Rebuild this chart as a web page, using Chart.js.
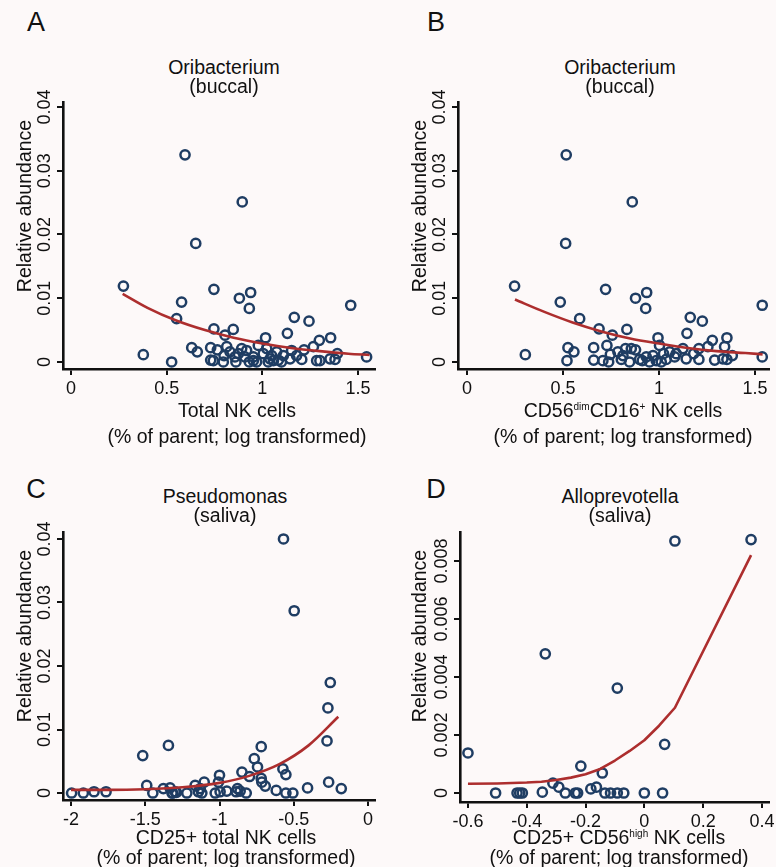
<!DOCTYPE html>
<html>
<head>
<meta charset="utf-8">
<script src="https://cdn.jsdelivr.net/npm/chart.js@4.4.1/dist/chart.umd.min.js"></script>
<style>
  html, body { margin:0; padding:0; background:#fdf9f9; overflow:hidden; }
  body { width:776px; height:867px; position:relative; font-family:"Liberation Sans", Arial, Helvetica, sans-serif; color:#111; }
  canvas { position:absolute; }
  .t { position:absolute; white-space:nowrap; transform:translate(-50%,-50%); line-height:1; font-size:19.5px; }
  .lt { font-size:27px; }
  .yt { transform:translate(-50%,-50%) rotate(-90deg); }
  .sup { font-size:10px; position:relative; top:-7px; }
</style>
</head>
<body>
<canvas id="cA"></canvas>
<canvas id="cB"></canvas>
<canvas id="cC"></canvas>
<canvas id="cD"></canvas>

<div class="t lt" style="left:36px;top:22px">A</div>
<div class="t lt" style="left:436px;top:22px">B</div>
<div class="t lt" style="left:36px;top:489px">C</div>
<div class="t lt" style="left:436px;top:489px">D</div>

<div class="t" style="left:224px;top:68px">Oribacterium</div>
<div class="t" style="left:224px;top:87px">(buccal)</div>
<div class="t" style="left:620px;top:68px">Oribacterium</div>
<div class="t" style="left:620px;top:87px">(buccal)</div>
<div class="t" style="left:225px;top:497px">Pseudomonas</div>
<div class="t" style="left:225px;top:516px">(saliva)</div>
<div class="t" style="left:620px;top:497px">Alloprevotella</div>
<div class="t" style="left:620px;top:516px">(saliva)</div>

<div class="t yt" style="left:25px;top:206px">Relative abundance</div>
<div class="t yt" style="left:420px;top:206px">Relative abundance</div>
<div class="t yt" style="left:25px;top:636px">Relative abundance</div>
<div class="t yt" style="left:420px;top:636px">Relative abundance</div>

<div class="t" style="left:237px;top:411px">Total NK cells</div>
<div class="t" style="left:237px;top:437px">(% of parent; log transformed)</div>
<div class="t" style="left:623px;top:411px">CD56<span class="sup">dim</span>CD16<span class="sup">+</span> NK cells</div>
<div class="t" style="left:623px;top:437px">(% of parent; log transformed)</div>
<div class="t" style="left:226px;top:838px">CD25+ total NK cells</div>
<div class="t" style="left:226px;top:858px">(% of parent; log transformed)</div>
<div class="t" style="left:619px;top:838px">CD25+ CD56<span class="sup">high</span> NK cells</div>
<div class="t" style="left:619px;top:858px">(% of parent; log transformed)</div>

<script>
// ---------------- DATA ----------------
// Panel A: Oribacterium (buccal) vs Total NK cells
const aX = [0.274,0.378,0.526,0.552,0.578,0.596,0.631,0.660,0.652,0.730,0.744,0.730,0.747,0.747,0.765,0.796,0.805,0.814,0.831,0.800,0.848,0.862,0.857,0.880,0.895,0.892,0.918,0.909,0.932,0.939,0.932,0.953,0.970,0.979,1.005,1.017,1.023,1.031,1.040,1.049,1.075,1.084,1.110,1.131,1.145,1.153,1.167,1.179,1.206,1.218,1.244,1.267,1.284,1.298,1.301,1.357,1.354,1.380,1.392,1.462,1.545,0.875,0.953,1.058,1.100];
const aY = [0.0119,0.00115,0.0000,0.0068,0.0094,0.0325,0.00225,0.0016,0.0186,0.0003,0.0002,0.00225,0.0114,0.0052,0.0019,0.0000,0.0042,0.0024,0.0016,0.0010,0.0051,0.0000,0.0008,0.0100,0.0251,0.0021,0.0018,0.0008,0.0000,0.0109,0.0084,0.0002,0.0000,0.0026,0.0013,0.0038,0.0021,0.0000,0.0005,0.0010,0.0016,0.0003,0.0010,0.0045,0.0005,0.0018,0.0070,0.0010,0.0004,0.0019,0.0064,0.0024,0.0002,0.0034,0.0002,0.0038,0.0005,0.0004,0.0013,0.0089,0.0008,0.0013,0.0008,0.0002,0.0000];
const aFitX = [0.27,0.4,0.55,0.7,0.85,1.0,1.15,1.3,1.45,1.56];
const aFitY = [0.0107,0.0085,0.0065,0.0050,0.0038,0.0029,0.0022,0.0017,0.0013,0.0011];

// Panel B: Oribacterium (buccal) vs CD56dim CD16+ NK cells
const bX = [0.248,0.304,0.486,0.517,0.514,0.526,0.521,0.557,0.587,0.660,0.660,0.688,0.708,0.722,0.729,0.738,0.747,0.757,0.786,0.804,0.8125,0.826,0.833,0.847,0.861,0.856,0.878,0.878,0.899,0.913,0.931,0.936,0.934,0.951,0.969,0.986,0.995,1.003,1.012,1.024,1.038,1.056,1.082,1.090,1.125,1.146,1.142,1.163,1.181,1.208,1.208,1.226,1.255,1.278,1.290,1.342,1.354,1.354,1.333,1.382,1.538,1.538];
const bY = [0.0119,0.00115,0.0094,0.0325,0.0186,0.00225,0.0002,0.0016,0.0068,0.00225,0.0003,0.0052,0.0002,0.0114,0.0026,0.0000,0.0012,0.0042,0.0016,0.0004,0.0010,0.0021,0.0051,0.0000,0.0251,0.0021,0.0100,0.0019,0.0004,0.0002,0.0084,0.0109,0.0008,0.0000,0.0010,0.0002,0.0038,0.0026,0.0000,0.0013,0.0004,0.0016,0.0008,0.0013,0.0021,0.0045,0.0005,0.0070,0.0013,0.0004,0.0021,0.0064,0.0024,0.0034,0.0003,0.0024,0.0038,0.0004,0.0005,0.0010,0.0089,0.0008];
const bFitX = [0.25,0.4,0.55,0.7,0.85,1.0,1.15,1.3,1.45,1.54];
const bFitY = [0.0098,0.0079,0.0062,0.0048,0.0037,0.0029,0.0022,0.0017,0.0014,0.0012];

// Panel C: Pseudomonas (saliva) vs CD25+ total NK cells
const cX = [-1.996,-1.917,-1.845,-1.764,-1.517,-1.490,-1.449,-1.378,-1.344,-1.333,-1.315,-1.299,-1.220,-1.164,-1.142,-1.119,-1.103,-1.130,-1.029,-1.007,-1.000,-0.996,-0.951,-0.888,-0.879,-0.861,-0.849,-0.820,-0.798,-0.766,-0.744,-0.719,-0.719,-0.715,-0.692,-0.618,-0.573,-0.553,-0.569,-0.553,-0.506,-0.497,-0.407,-0.276,-0.270,-0.265,-0.254,-0.180,-1.320,-1.290];
const cY = [0,0,0.0002,0.0002,0.0059,0.0012,0,0.0007,0.0075,0.0008,0,0.0002,0,0.0012,0.0002,0,0.0017,0.0007,0,0.0017,0.0028,0.0002,0.0003,0.0002,0.0007,0.0003,0.0033,0,0.0026,0.0054,0.0041,0.0073,0.0023,0.0017,0.0011,0.0004,0.0038,0.0029,0.0400,0,0,0.0287,0.0008,0.0082,0.0134,0.0017,0.0174,0.0007,0,0.0001];
const cFitX = [-2,-1.75,-1.5,-1.25,-1.0,-0.8,-0.6,-0.4,-0.2];
const cFitY = [0.0005,0.0005,0.0006,0.0009,0.0016,0.0027,0.0045,0.0075,0.0120];

// Panel D: Alloprevotella (saliva) vs CD25+ CD56high NK cells
const dX = [-0.600,-0.506,-0.433,-0.424,-0.415,-0.347,-0.337,-0.311,-0.291,-0.269,-0.235,-0.227,-0.216,-0.182,-0.163,-0.143,-0.134,-0.115,-0.092,-0.092,-0.070,0.000,0.062,0.069,0.104,0.363];
const dY = [0.00138,0,0,0,0,0.00003,0.0048,0.00034,0.0002,0,0,0,0.00093,0.00014,0.0002,0.00069,0,0,0,0.00362,0,0,0,0.00168,0.00869,0.00874];
const dFitX = [-0.6,-0.5,-0.4,-0.35,-0.3,-0.25,-0.2,-0.15,-0.1,-0.05,0,0.05,0.104,0.363];
const dFitY = [0.00032,0.00033,0.00036,0.00039,0.00045,0.00053,0.00065,0.00083,0.00112,0.00145,0.00182,0.00232,0.00294,0.0082];

// Tick values and labels
const abXTicks = [0,0.5,1,1.5];
const abXLabels = ['0','0.5','1','1.5'];
const acYTicks = [0,0.01,0.02,0.03,0.04];
const acYLabels = ['0','0.01','0.02','0.03','0.04'];
const cXTicks = [-2,-1.5,-1,-0.5,0];
const cXLabels = ['-2','-1.5','-1','-0.5','0'];
const dXTicks = [-0.6,-0.4,-0.2,0,0.2,0.4];
const dXLabels = ['-0.6','-0.4','-0.2','0','0.2','0.4'];
const dYTicks = [0,0.002,0.004,0.006,0.008];
const dYLabels = ['0','0.002','0.004','0.006','0.008'];

// ---------------- DRAWING ----------------
const FAMILY = '"Liberation Sans", Arial, Helvetica, sans-serif';
const TICKSIZE = 18;
const TL = 6;
const MARK = '#1f3d63';
const FIT = '#ad2e2e';
const AXIS = '#111111';

function widest(labels) {
  const c = document.createElement('canvas').getContext('2d');
  c.font = 'normal ' + TICKSIZE + 'px ' + FAMILY;
  return Math.max(...labels.map(l => c.measureText(l).width));
}
function pts(xs, ys) { return xs.map((x, i) => ({x: x, y: ys[i]})); }

function panel(id, p) {
  const cv = document.getElementById(id);
  cv.width = p.cw; cv.height = p.ch;
  cv.style.left = p.cl + 'px'; cv.style.top = p.ct + 'px';
  cv.style.width = p.cw + 'px'; cv.style.height = p.ch + 'px';
  const yAxisW = p.L - p.cl;
  const xAxisH = p.ct + p.ch - p.B;
  const yPad = (p.L - TL) - p.yLabC - widest(p.yLabels) / 2;
  const lineDs = { type: 'line', data: pts(p.fx, p.fy), borderColor: FIT, borderWidth: 2.6,
          pointRadius: 0, fill: false, order: 0, clip: false, borderJoinStyle: 'round' };
  if (p.smooth) { lineDs.cubicInterpolationMode = 'monotone'; } else { lineDs.tension = 0; }
  new Chart(cv, {
    type: 'scatter',
    data: {
      datasets: [
        lineDs,
        { data: pts(p.xs, p.ys), pointStyle: 'circle', pointRadius: 4.6, pointBorderWidth: 2.5,
          borderColor: MARK, backgroundColor: 'rgba(0,0,0,0)', pointHoverRadius: 4.6, order: 1, clip: false }
      ]
    },
    options: {
      responsive: false, animation: false, devicePixelRatio: 1,
      events: [],
      layout: { padding: { left: 0, top: p.T - p.ct, right: p.cl + p.cw - p.R, bottom: 0 } },
      plugins: { legend: { display: false }, tooltip: { enabled: false }, title: { display: false } },
      scales: {
        x: {
          type: 'linear', position: 'bottom', min: p.xmin, max: p.xmax,
          afterBuildTicks: s => { s.ticks = p.xTicks.map(v => ({value: v})); },
          afterFit: s => { s.height = xAxisH; s.paddingLeft = 0; s.paddingRight = 0; },
          ticks: { autoSkip: false, maxRotation: 0, minRotation: 0, padding: 3, color: AXIS,
                   font: { family: FAMILY, size: TICKSIZE },
                   callback: (v, i) => p.xLabels[i] },
          grid: { display: true, drawOnChartArea: false, drawTicks: true, tickLength: TL, color: AXIS, lineWidth: 2 },
          border: { display: true, color: AXIS, width: 2.6 }
        },
        y: {
          type: 'linear', position: 'left', min: p.ymin, max: p.ymax,
          afterBuildTicks: s => { s.ticks = p.yTicks.map(v => ({value: v})); },
          afterFit: s => { s.width = yAxisW; s.paddingTop = 0; s.paddingBottom = 0; },
          ticks: { autoSkip: false, minRotation: 90, maxRotation: 90, crossAlign: 'center', padding: yPad, color: AXIS,
                   font: { family: FAMILY, size: TICKSIZE },
                   callback: (v, i) => p.yLabels[i] },
          grid: { display: true, drawOnChartArea: false, drawTicks: true, tickLength: TL, color: AXIS, lineWidth: 2 },
          border: { display: true, color: AXIS, width: 2.6 }
        }
      }
    }
  });
}

panel('cA', { cl: 0, ct: 90, cw: 388, ch: 320, L: 63, R: 375, T: 102, B: 369, smooth: true,
  xmin: -0.0418, xmax: 1.5889, ymin: -0.0011, ymax: 0.04078, yLabC: 45.5,
  xs: aX, ys: aY, fx: aFitX, fy: aFitY, xTicks: abXTicks, xLabels: abXLabels, yTicks: acYTicks, yLabels: acYLabels });
panel('cB', { cl: 388, ct: 90, cw: 388, ch: 320, L: 458, R: 770, T: 102, B: 369, smooth: true,
  xmin: -0.0467, xmax: 1.5727, ymin: -0.0011, ymax: 0.04078, yLabC: 440,
  xs: bX, ys: bY, fx: bFitX, fy: bFitY, xTicks: abXTicks, xLabels: abXLabels, yTicks: acYTicks, yLabels: acYLabels });
panel('cC', { cl: 0, ct: 520, cw: 388, ch: 310, L: 63, R: 375, T: 532, B: 800, smooth: true,
  xmin: -2.0539, xmax: 0.0471, ymin: -0.0011, ymax: 0.0411, yLabC: 45.5,
  xs: cX, ys: cY, fx: cFitX, fy: cFitY, xTicks: cXTicks, xLabels: cXLabels, yTicks: acYTicks, yLabels: acYLabels });
panel('cD', { cl: 388, ct: 520, cw: 388, ch: 310, L: 460, R: 770, T: 532, B: 802, smooth: false,
  xmin: -0.6271, xmax: 0.4237, ymin: -0.00031, ymax: 0.0090, yLabC: 442,
  xs: dX, ys: dY, fx: dFitX, fy: dFitY, xTicks: dXTicks, xLabels: dXLabels, yTicks: dYTicks, yLabels: dYLabels });
</script>
</body>
</html>
